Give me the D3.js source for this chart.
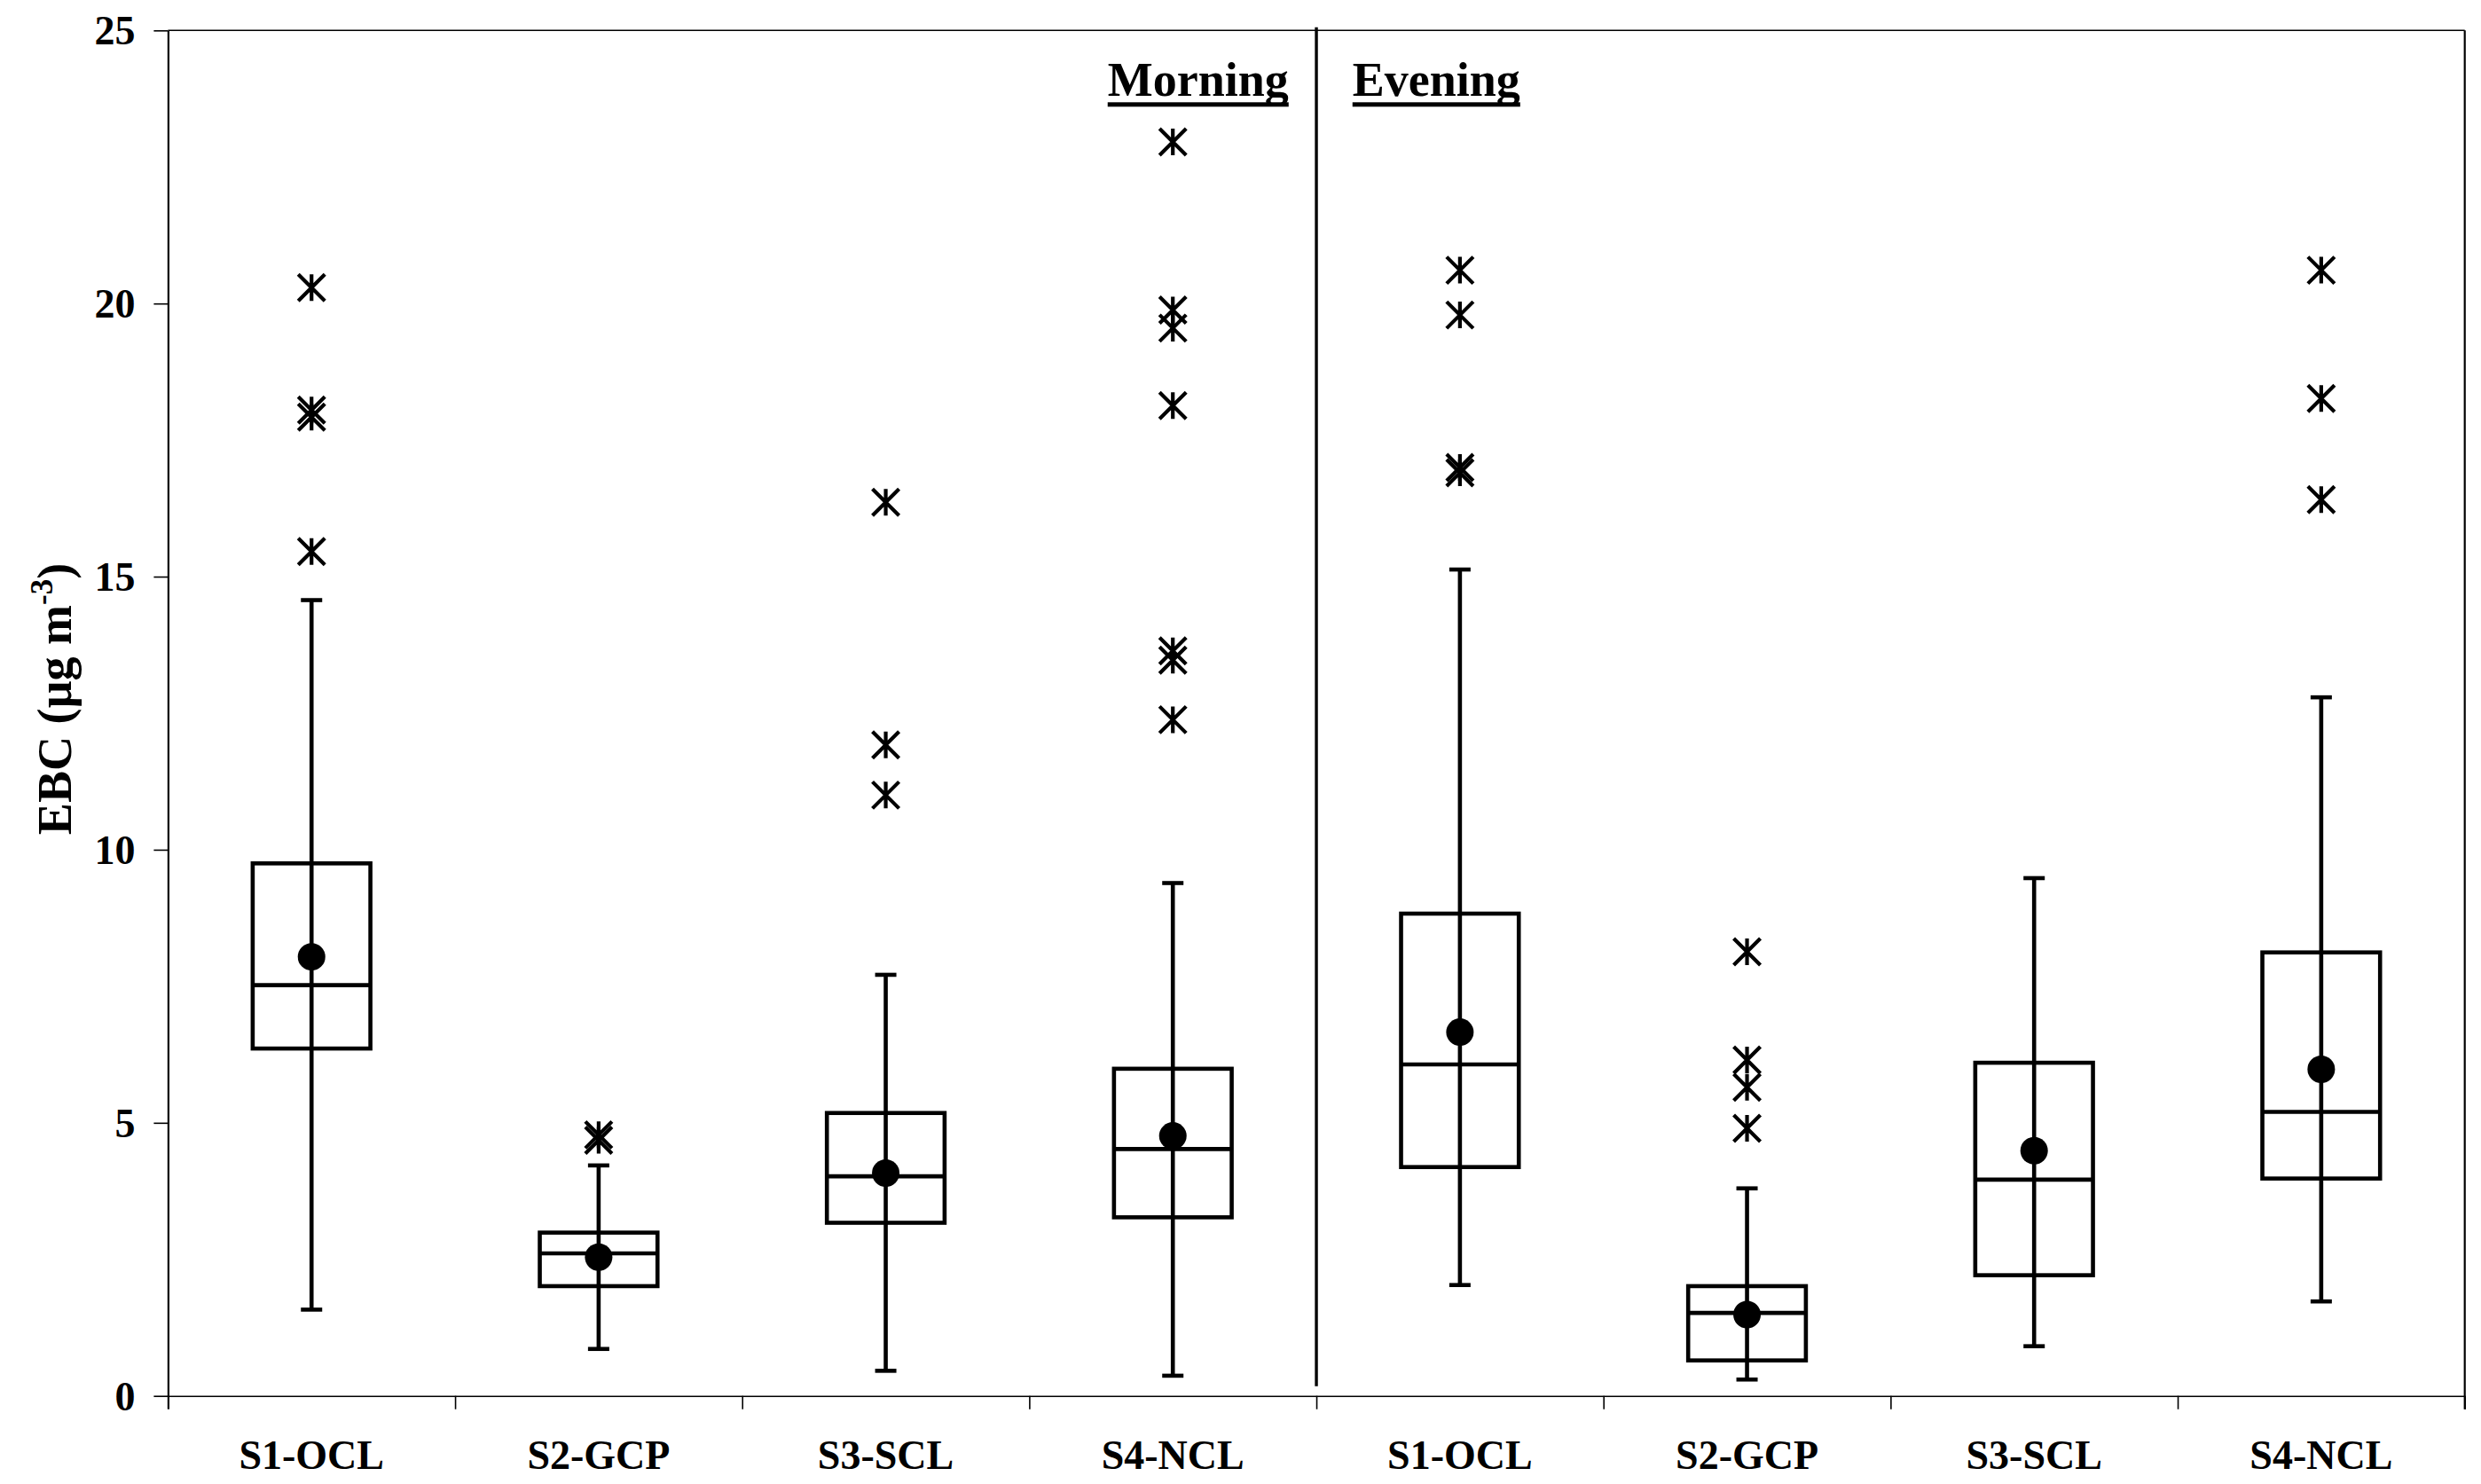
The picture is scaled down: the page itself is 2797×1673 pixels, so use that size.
<!DOCTYPE html>
<html>
<head>
<meta charset="utf-8">
<script src="https://cdn.jsdelivr.net/npm/d3@7"></script>
<style>
  body { margin: 0; background: #fff; }
  text { font-family: "Liberation Serif", "Times New Roman", serif; font-weight: bold; fill: #000; }
</style>
</head>
<body>
<script>
// box plot stats, morning sites first then evening sites
const periods = ["Morning", "Evening"];
const sites = ["S1-OCL", "S2-GCP", "S3-SCL", "S4-NCL"];
const whiskerLow = [1.58, 0.86, 0.46, 0.37, 2.03, 0.30, 0.91, 1.73];
const q1 = [6.36, 2.01, 3.17, 3.27, 4.19, 0.65, 2.21, 3.98];
const median = [7.52, 2.61, 4.02, 4.52, 6.07, 1.52, 3.96, 5.20];
const q3 = [9.75, 2.99, 5.18, 5.99, 8.83, 2.01, 6.10, 8.12];
const whiskerHigh = [14.57, 4.22, 7.71, 9.39, 15.13, 3.80, 9.48, 12.79];
const mean = [8.04, 2.54, 4.08, 4.76, 6.66, 1.49, 4.49, 5.98];
const outliers = [
  [20.29, 18.05, 17.92, 15.46],
  [4.78, 4.68],
  [16.36, 11.92, 11.0],
  [22.96, 19.88, 19.55, 18.13, 13.64, 13.47, 12.38],
  [20.61, 19.79, 17.0, 16.9],
  [8.13, 6.15, 5.65, 4.9],
  [],
  [20.61, 18.26, 16.41]
];
const yTicks = [0, 5, 10, 15, 20, 25];

const W = 2797, H = 1673;
const margin = { top: 34.3, right: 18.3, bottom: 99.3, left: 189.4 };
const width = W - margin.left - margin.right,
  height = H - margin.top - margin.bottom;

const boxFrac = 0.41;
const capWidth = 24;
const markStroke = 4.6;
const starHalf = 15;
const dotRadius = 15.5;

const keys = periods.flatMap((p) => sites.map((s) => p + " " + s));
const rows = keys.map((k, i) => ({
  key: k,
  site: sites[i % sites.length],
  low: whiskerLow[i],
  q1: q1[i],
  med: median[i],
  q3: q3[i],
  high: whiskerHigh[i],
  mean: mean[i],
  out: outliers[i]
}));

const svg = d3.select("body").append("svg")
  .attr("width", W)
  .attr("height", H);

const g = svg.append("g")
  .attr("transform", "translate(" + margin.left + "," + margin.top + ")");

const x = d3.scaleBand().domain(keys).range([0, width]).padding(0);
const xEdge = d3.scaleLinear().domain([0, keys.length]).range([0, width]);
const y = d3.scaleLinear().domain([0, 25]).range([height, 0]);

// y axis
const yAxis = g.append("g")
  .call(d3.axisLeft(y).tickValues(yTicks).tickSize(16).tickSizeOuter(0).tickPadding(21));
yAxis.select(".domain").attr("stroke-width", 2.2);
yAxis.selectAll(".tick line").attr("stroke-width", 1.6);
yAxis.selectAll("text")
  .attr("font-size", 46)
  .attr("dy", "0.34em")
  .style("font-family", "'Liberation Serif', 'Times New Roman', serif")
  .style("font-weight", "bold");

// x axis: ticks at category boundaries
const xTickAxis = g.append("g")
  .attr("transform", "translate(0," + height + ")")
  .call(d3.axisBottom(xEdge).tickValues(d3.range(keys.length + 1)).tickSize(15).tickSizeOuter(0).tickFormat(""));
xTickAxis.select(".domain").attr("stroke-width", 1.6);
xTickAxis.selectAll(".tick line").attr("stroke-width", 1.6);
xTickAxis.select(".tick:first-of-type line").attr("stroke-width", 2.2);

// category labels
const xLabelAxis = g.append("g")
  .attr("transform", "translate(0," + height + ")")
  .call(d3.axisBottom(x).tickSize(0).tickPadding(49.6).tickFormat((k) => k.split(" ")[1]));
xLabelAxis.select(".domain").remove();
xLabelAxis.selectAll("text")
  .attr("font-size", 46)
  .style("font-family", "'Liberation Serif', 'Times New Roman', serif")
  .style("font-weight", "bold");

// plot area frame (top and right)
g.append("line")
  .attr("x1", 0).attr("x2", width)
  .attr("y1", y(25)).attr("y2", y(25))
  .attr("stroke", "#000").attr("stroke-width", 1.6);
g.append("line")
  .attr("x1", width).attr("x2", width)
  .attr("y1", y(25)).attr("y2", height + 15)
  .attr("stroke", "#000").attr("stroke-width", 2.2);

// morning / evening divider
const divX = xEdge(sites.length);
g.append("line")
  .attr("x1", divX).attr("x2", divX)
  .attr("y1", -3.6).attr("y2", height - 11)
  .attr("stroke", "#000").attr("stroke-width", 3.4);

// period titles, underlined
const titleX = [divX - 235.3, divX + 40.7];
periods.forEach((p, i) => {
  const t = g.append("text")
    .attr("x", titleX[i])
    .attr("y", 73.7)
    .attr("font-size", 54)
    .text(p);
  const len = t.node().getComputedTextLength();
  g.append("rect")
    .attr("x", titleX[i])
    .attr("y", 81)
    .attr("width", len)
    .attr("height", 5)
    .attr("fill", "#000");
});

// boxes
const box = g.append("g").selectAll("g")
  .data(rows)
  .join("g")
  .attr("transform", (d) => "translate(" + (x(d.key) + x.bandwidth() / 2) + ",0)");

const bw = x.bandwidth() * boxFrac;

box.append("line")
  .attr("y1", (d) => y(d.low))
  .attr("y2", (d) => y(d.high))
  .attr("stroke", "#000").attr("stroke-width", markStroke);

box.append("line")
  .attr("x1", -capWidth / 2).attr("x2", capWidth / 2)
  .attr("y1", (d) => y(d.high)).attr("y2", (d) => y(d.high))
  .attr("stroke", "#000").attr("stroke-width", markStroke);

box.append("line")
  .attr("x1", -capWidth / 2).attr("x2", capWidth / 2)
  .attr("y1", (d) => y(d.low)).attr("y2", (d) => y(d.low))
  .attr("stroke", "#000").attr("stroke-width", markStroke);

box.append("rect")
  .attr("x", -bw / 2)
  .attr("width", bw)
  .attr("y", (d) => y(d.q3))
  .attr("height", (d) => y(d.q1) - y(d.q3))
  .attr("fill", "none")
  .attr("stroke", "#000").attr("stroke-width", markStroke);

box.append("line")
  .attr("x1", -bw / 2).attr("x2", bw / 2)
  .attr("y1", (d) => y(d.med)).attr("y2", (d) => y(d.med))
  .attr("stroke", "#000").attr("stroke-width", markStroke);

box.append("circle")
  .attr("cy", (d) => y(d.mean))
  .attr("r", dotRadius)
  .attr("fill", "#000");

// outliers drawn as asterisks
const starPath = "M0," + -starHalf + "V" + starHalf +
  "M" + -starHalf + "," + -starHalf + "L" + starHalf + "," + starHalf +
  "M" + -starHalf + "," + starHalf + "L" + starHalf + "," + -starHalf;

box.selectAll("path.star")
  .data((d) => d.out)
  .join("path")
  .attr("class", "star")
  .attr("d", starPath)
  .attr("transform", (v) => "translate(0," + y(v) + ")")
  .attr("fill", "none")
  .attr("stroke", "#000").attr("stroke-width", 4.2);

// y axis title
const yTitle = svg.append("text")
  .attr("transform", "translate(80,788) rotate(-90)")
  .attr("text-anchor", "middle")
  .attr("font-size", 54);
yTitle.append("tspan").text("EBC (\u00b5g m");
yTitle.append("tspan").attr("font-size", 35).attr("dy", -21).text("-3");
yTitle.append("tspan").attr("dy", 21).text(")");
</script>
</body>
</html>
